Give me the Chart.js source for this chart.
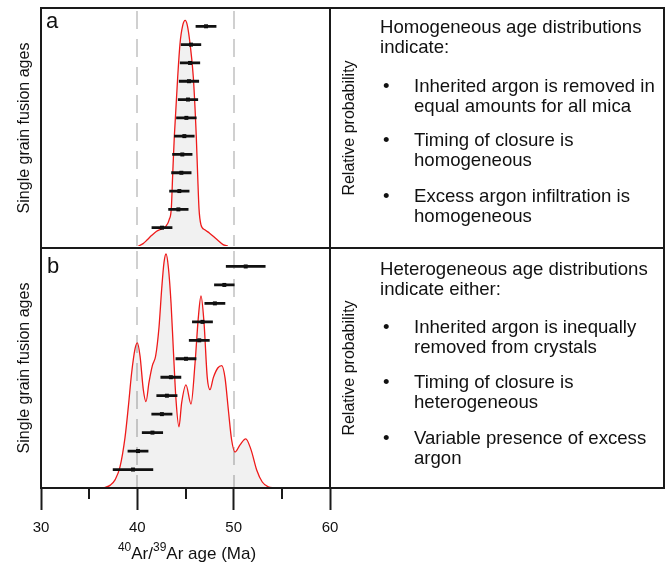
<!DOCTYPE html>
<html><head><meta charset="utf-8">
<script src="https://cdn.jsdelivr.net/npm/chart.js@4/dist/chart.umd.min.js"></script>
<style>
html,body{margin:0;padding:0;background:#fff;}
body{width:667px;height:566px;position:relative;overflow:hidden;font-family:"Liberation Sans",Arial,sans-serif;color:#111;}
canvas{position:absolute;left:0;top:0;}
.t{position:absolute;white-space:nowrap;font-size:18.6px;line-height:20px;}
.rot{position:absolute;white-space:nowrap;font-size:16px;line-height:18px;transform:translate(-50%,-50%) rotate(-90deg);}
.lab{position:absolute;font-size:22px;line-height:22px;}
.ax{position:absolute;white-space:nowrap;font-size:17px;line-height:20px;transform:translateX(-50%);}
.ax span{position:relative;top:-8px;font-size:12px;}
</style></head><body>
<canvas id="ca" width="667" height="250" style="width:667px;height:250px"></canvas>
<canvas id="cb" width="667" height="566" style="width:667px;height:566px"></canvas>

<div class="lab" style="left:46px;top:10px">a</div>
<div class="lab" style="left:47px;top:255px">b</div>
<div class="rot" style="left:24px;top:128px">Single grain fusion ages</div>
<div class="rot" style="left:24px;top:368px">Single grain fusion ages</div>
<div class="rot" style="left:349px;top:128px">Relative probability</div>
<div class="rot" style="left:349px;top:368px">Relative probability</div>

<div class="t" style="left:380px;top:17px">Homogeneous age distributions<br>indicate:</div>
<div class="t" style="left:383px;top:76px">•</div>
<div class="t" style="left:414px;top:76px">Inherited argon is removed in<br>equal amounts for all mica</div>
<div class="t" style="left:383px;top:130px">•</div>
<div class="t" style="left:414px;top:130px">Timing of closure is<br>homogeneous</div>
<div class="t" style="left:383px;top:186px">•</div>
<div class="t" style="left:414px;top:186px">Excess argon infiltration is<br>homogeneous</div>

<div class="t" style="left:380px;top:259px">Heterogeneous age distributions<br>indicate either:</div>
<div class="t" style="left:383px;top:317px">•</div>
<div class="t" style="left:414px;top:317px">Inherited argon is inequally<br>removed from crystals</div>
<div class="t" style="left:383px;top:372px">•</div>
<div class="t" style="left:414px;top:372px">Timing of closure is<br>heterogeneous</div>
<div class="t" style="left:383px;top:428px">•</div>
<div class="t" style="left:414px;top:428px">Variable presence of excess<br>argon</div>

<div class="ax" style="left:187px;top:544px"><span>40</span>Ar/<span>39</span>Ar age (Ma)</div>

<script>
// ---------- data ----------
const xMajorTicks = [30, 40, 50, 60];
const xMinorTicks = [35, 45, 55];
const refLines = [40, 50];

// Panel a: single grain fusion ages (bottom row first) and 1-sigma errors (Ma)
const agesA = [42.56, 44.26, 44.36, 44.57, 44.67, 44.88, 45.09, 45.26, 45.36, 45.47, 45.57, 47.13];
const errA  = [1.08, 1.05, 1.05, 1.05, 1.05, 1.06, 1.06, 1.05, 1.05, 1.05, 1.06, 1.08];
// Panel a: relative probability curve
const densAx = [40.1, 40.6, 41.0, 41.5, 42.0, 42.5, 43.0, 43.3, 43.53, 43.67, 43.84, 44.19, 44.43, 44.7, 44.97, 45.2, 45.47, 45.81, 46.12, 46.26, 46.4, 46.6, 47.0, 47.5, 48.24, 48.9, 49.4];
const densAy = [0, 0.01, 0.025, 0.045, 0.062, 0.072, 0.085, 0.11, 0.16, 0.30, 0.46, 0.71, 0.85, 0.925, 0.948, 0.925, 0.85, 0.71, 0.46, 0.30, 0.158, 0.09, 0.068, 0.054, 0.028, 0.006, 0];

// Panel b
const agesB = [39.55, 40.07, 41.57, 42.55, 43.07, 43.48, 45.05, 46.43, 46.76, 48.05, 49.03, 51.25];
const errB  = [2.1, 1.08, 1.1, 1.09, 1.09, 1.08, 1.08, 1.08, 1.08, 1.08, 1.06, 2.06];
const densBx = [36.5, 37.2, 37.7, 38.2, 38.72, 39.07, 39.41, 39.76, 40.0, 40.28, 40.62, 40.9, 41.21, 41.56, 41.9, 42.25, 42.53, 42.77, 42.98, 43.22, 43.5, 43.74, 44.01, 44.32, 44.6, 45.05, 45.57, 45.99, 46.33, 46.61, 46.92, 47.26, 47.54, 47.89, 48.35, 48.76, 49.1, 49.45, 49.79, 50.14, 50.66, 51.25, 51.8, 52.39, 52.97, 53.6, 54.2];
const densBy = [0, 0.012, 0.035, 0.088, 0.21, 0.34, 0.48, 0.58, 0.605, 0.55, 0.41, 0.36, 0.44, 0.51, 0.55, 0.67, 0.83, 0.94, 0.975, 0.92, 0.77, 0.575, 0.37, 0.255, 0.355, 0.43, 0.35, 0.52, 0.71, 0.80, 0.69, 0.46, 0.41, 0.46, 0.50, 0.51, 0.46, 0.325, 0.20, 0.15, 0.18, 0.205, 0.16, 0.075, 0.025, 0.005, 0];

// ---------- layout / style ----------
const FR = {left: 41, mid: 330, right: 664, top: 8, div: 248, bottom: 488, W: 667, H: 566};
const FRAME_COLOR = '#1a1a1a';

function errSegments(ages, errs) {
  const pts = [];
  ages.forEach((a, i) => {
    pts.push({x: a - errs[i], y: i + 1});
    pts.push({x: a + errs[i], y: i + 1});
    pts.push({x: a, y: null});
  });
  return pts;
}
function centers(ages) { return ages.map((a, i) => ({x: a, y: i + 1})); }
function curve(xs, ys) { return xs.map((x, i) => ({x: x, y: ys[i]})); }

const refLinePlugin = {
  id: 'refLines',
  beforeDatasetsDraw(chart) {
    const {ctx, chartArea: a, scales: {x}} = chart;
    ctx.save();
    ctx.strokeStyle = '#d0d0d0';
    ctx.lineWidth = 2;
    ctx.setLineDash([18, 10]);
    ctx.lineDashOffset = 25;
    refLines.forEach(v => {
      const px = Math.round(x.getPixelForValue(v));
      ctx.beginPath(); ctx.moveTo(px, a.top); ctx.lineTo(px, a.bottom); ctx.stroke();
    });
    ctx.restore();
  }
};

const framePlugin = {
  id: 'frame',
  afterDraw(chart) {
    const {ctx, chartArea: a, scales: {x}} = chart;
    ctx.save();
    ctx.strokeStyle = FRAME_COLOR;
    ctx.lineWidth = 2;
    xMinorTicks.forEach(v => {
      const px = Math.round(x.getPixelForValue(v));
      ctx.beginPath(); ctx.moveTo(px, a.bottom); ctx.lineTo(px, a.bottom + 11); ctx.stroke();
    });
    ctx.strokeRect(FR.left, FR.top, FR.right - FR.left, FR.bottom - FR.top);
    ctx.beginPath();
    ctx.moveTo(FR.mid, FR.top); ctx.lineTo(FR.mid, FR.bottom);
    ctx.moveTo(FR.left, FR.div); ctx.lineTo(FR.right, FR.div);
    ctx.stroke();
    ctx.restore();
  }
};

function datasets(ages, errs, dx, dy) {
  return [
    {data: errSegments(ages, errs), yAxisID: 'yi', showLine: true, spanGaps: false,
     borderColor: '#111', borderWidth: 2.8, pointRadius: 0, order: 0, borderCapStyle: 'butt'},
    {data: centers(ages), yAxisID: 'yi', showLine: false, pointStyle: 'rect',
     pointRadius: 2.8, backgroundColor: '#000', borderWidth: 0, order: 0},
    {data: curve(dx, dy), yAxisID: 'yd', showLine: true, fill: 'origin',
     borderColor: '#ee1a1a', borderWidth: 1.3, backgroundColor: 'rgba(0,0,0,0.055)',
     pointRadius: 0, cubicInterpolationMode: 'monotone', order: 1}
  ];
}

const common = {
  responsive: false, animation: false, devicePixelRatio: 1, events: [],
  plugins: {legend: {display: false}, tooltip: {enabled: false}}
};

new Chart(document.getElementById('ca'), {
  type: 'scatter',
  data: {datasets: datasets(agesA, errA, densAx, densAy)},
  options: Object.assign({}, common, {
    layout: {padding: {left: FR.left, right: FR.W - FR.mid, top: FR.top, bottom: 250 - FR.div}},
    scales: {
      x: {type: 'linear', min: 30, max: 60, display: false},
      yd: {type: 'linear', min: 0, max: 1, display: false},
      yi: {type: 'linear', min: 0, max: 13, display: false}
    }
  }),
  plugins: [refLinePlugin]
});

new Chart(document.getElementById('cb'), {
  type: 'scatter',
  data: {datasets: datasets(agesB, errB, densBx, densBy)},
  options: Object.assign({}, common, {
    layout: {padding: {left: FR.left, right: FR.W - FR.mid, top: FR.div, bottom: 20}},
    scales: {
      x: {type: 'linear', min: 30, max: 60, position: 'bottom',
          afterBuildTicks: s => { s.ticks = xMajorTicks.map(v => ({value: v})); },
          grid: {drawOnChartArea: false, drawTicks: true, tickLength: 22, tickWidth: 2, tickColor: FRAME_COLOR},
          border: {display: false},
          ticks: {padding: 9, color: '#111', font: {family: '"Liberation Sans", Arial, sans-serif', size: 15}}},
      yd: {type: 'linear', min: 0, max: 1, display: false},
      yi: {type: 'linear', min: 0, max: 13, display: false}
    }
  }),
  plugins: [refLinePlugin, framePlugin]
});
</script>
</body></html>
